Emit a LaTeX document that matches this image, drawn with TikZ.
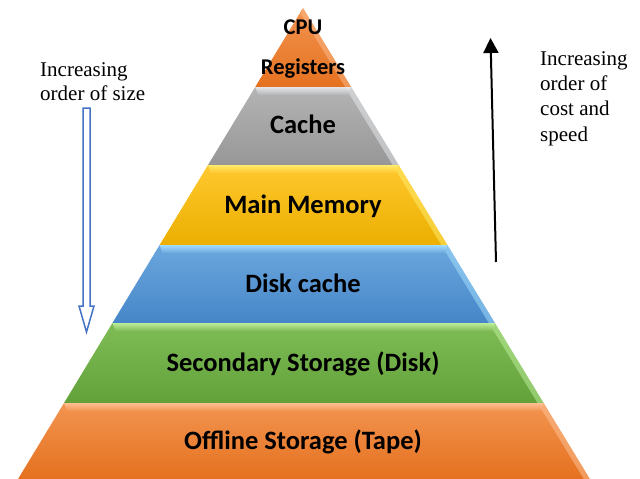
\documentclass[tikz,border=0pt]{standalone}
\usepackage{fontspec}
\setmainfont{Liberation Serif}
\newfontfamily\calfont{Carlito}
\usetikzlibrary{arrows.meta}
\definecolor{orA}{HTML}{F29450}
\definecolor{orB}{HTML}{E5711F}
\definecolor{orH}{HTML}{FFC49A}
\definecolor{grA}{HTML}{B4B4B4}
\definecolor{grB}{HTML}{979797}
\definecolor{grH}{HTML}{E8ECEE}
\definecolor{yeA}{HTML}{FFC82E}
\definecolor{yeB}{HTML}{EBAF00}
\definecolor{yeH}{HTML}{FFEE70}
\definecolor{blA}{HTML}{6BA7DE}
\definecolor{blB}{HTML}{4686C8}
\definecolor{blH}{HTML}{A8E2FF}
\definecolor{gnA}{HTML}{7FBC56}
\definecolor{gnB}{HTML}{62A139}
\definecolor{gnH}{HTML}{C4F2A2}
\definecolor{arrowblue}{HTML}{4472C4}
\tikzset{
  layertext/.style={font=\calfont\bfseries\fontsize{26.5}{30}\selectfont, inner sep=0pt, anchor=base},
  sidetext/.style={font=\fontsize{21}{24.5}\selectfont, align=left, inner sep=0pt, anchor=north west},
}
\begin{document}
\begin{tikzpicture}[x=1pt,y=-1pt]
\useasboundingbox (0,0) rectangle (640,479);
% top triangle
\shade[top color=orA, bottom color=orB] (303,8) -- (351.1,87) -- (255.2,87) -- cycle;
\fill[orH, opacity=0.45] (303,8) -- (351.1,87) -- (345.1,87) -- (301,14) -- cycle;
% layers
\foreach \yt/\yb/\ca/\cb/\hl in {87/165/grA/grB/grH, 165/245/yeA/yeB/yeH, 245/323/blA/blB/blH, 323/403/gnA/gnB/gnH, 403/479/orA/orB/orH}{
  \pgfmathsetmacro\Lt{303-0.605*(\yt-8)}
  \pgfmathsetmacro\Rt{303+0.609*(\yt-8)}
  \pgfmathsetmacro\Lb{303-0.605*(\yb-8)}
  \pgfmathsetmacro\Rb{303+0.609*(\yb-8)}
  \pgfmathsetmacro\yh{\yt+8}
  \pgfmathsetmacro\Lh{303-0.605*(\yh-8)+8}
  \pgfmathsetmacro\Rh{303+0.609*(\yh-8)-7}
  \shade[top color=\ca, bottom color=\cb] (\Lt,\yt) -- (\Rt,\yt) -- (\Rb,\yb) -- (\Lb,\yb) -- cycle;
  \fill[\hl, opacity=0.5] (\Rt,\yt) -- (\Rb,\yb) -- (\Rb-6,\yb) -- (\Rt-6,\yt) -- cycle;
  \shade[top color=\hl, bottom color=\ca, opacity=0.9] (\Lt,\yt) -- (\Rt,\yt) -- (\Rh,\yh) -- (\Lh,\yh) -- cycle;
}
% labels
\node[font=\calfont\bfseries\fontsize{22.5}{40}\selectfont, align=center, inner sep=0pt, anchor=north] (cpu) at (303,20) {CPU\\Registers};
\node[layertext] (cache) at (303,133) {Cache};
\node[layertext] (main) at (303,213) {Main Memory};
\node[layertext] (disk) at (303,292) {Disk cache};
\node[layertext] (sec) at (303,371) {Secondary Storage (Disk)};
\node[layertext] (off) at (303,449) {Offline Storage (Tape)};
% side texts
\node[sidetext] (sizetext) at (40,62) {Increasing\\order of size};
\node[sidetext, font=\fontsize{21}{25.3}\selectfont] (costtext) at (540,51) {Increasing\\order of\\cost and\\speed};
% hollow down arrow
\draw[arrowblue, line width=1.5pt, fill=white, line join=miter]
  (83,108) -- (90,108) -- (90,306) -- (94,306) -- (86.5,332) -- (79,306) -- (83,306) -- cycle;
% up arrow
\coordinate (upbot) at (496,262);
\coordinate (uptop) at (490.5,38);
\draw[line width=2pt, -{Triangle[length=15pt,width=15pt]}] (upbot) -- (uptop);
\end{tikzpicture}
\end{document}
